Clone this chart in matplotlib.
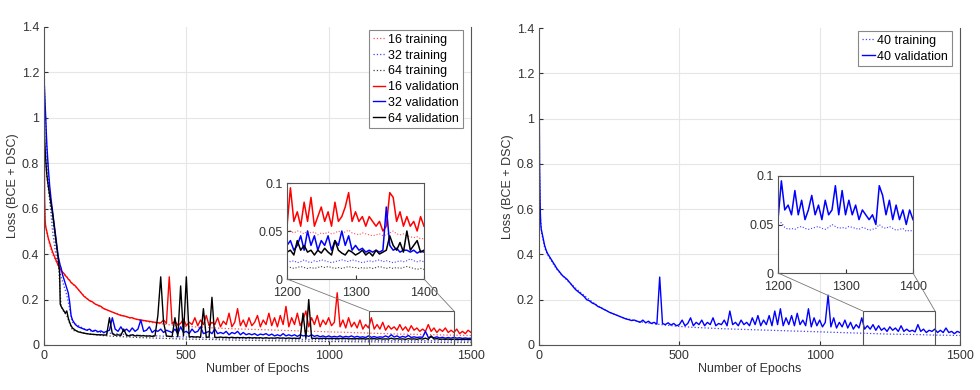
import numpy as np
import matplotlib
matplotlib.use("Agg")
import matplotlib.pyplot as plt
from matplotlib.patches import Rectangle, ConnectionPatch

plt.rcParams["font.family"] = ["Liberation Sans", "DejaVu Sans"]
plt.rcParams["font.size"] = 9

# epochs: dense at the start, then every 10 (validation) / every 50 (training)
early_ep = [0, 1, 2, 4, 6, 8, 10, 15, 20, 25, 30, 35, 40, 45, 50, 55, 57, 60, 65, 70, 75, 80, 85, 90, 95]
ep_val = np.concatenate([early_ep, np.arange(100, 1501, 10)])
ep_train = np.concatenate([[0, 2, 5, 10, 20, 30, 40, 50, 60, 70, 80, 90], np.arange(100, 1501, 50)])
ep_zoom = np.arange(1200, 1401, 5)

# ---- left panel: batch sizes 16 / 32 / 64 ----
v16 = [1.20, 0.90, 0.65, 0.55, 0.52, 0.51, 0.50, 0.47, 0.45, 0.43, 0.41, 0.395, 0.38, 0.365, 0.35, 0.34, 0.335,
       0.33, 0.32, 0.315, 0.305, 0.30, 0.29, 0.285, 0.275,
       0.27, 0.26, 0.245, 0.23, 0.215, 0.205, 0.195, 0.19, 0.18, 0.175,
       0.17, 0.16, 0.155, 0.15, 0.145, 0.14, 0.135, 0.13, 0.128, 0.125,
       0.12, 0.12, 0.115, 0.112, 0.11, 0.108, 0.106, 0.104, 0.102, 0.10,
       0.098, 0.097, 0.11, 0.095, 0.30, 0.093, 0.105, 0.088, 0.095, 0.115,
       0.085, 0.10, 0.09, 0.12, 0.085, 0.11, 0.09, 0.13, 0.085, 0.10,
       0.09, 0.12, 0.08, 0.105, 0.09, 0.14, 0.08, 0.10, 0.16, 0.085,
       0.11, 0.08, 0.12, 0.085, 0.10, 0.13, 0.08, 0.11, 0.09, 0.14,
       0.085, 0.12, 0.08, 0.13, 0.09, 0.17, 0.08, 0.12, 0.09, 0.14,
       0.085, 0.11, 0.15, 0.08, 0.12, 0.09, 0.13, 0.08, 0.11, 0.09,
       0.12, 0.085, 0.10, 0.23, 0.08, 0.11, 0.075, 0.12, 0.08, 0.10,
       0.075, 0.11, 0.07, 0.09, 0.075, 0.12, 0.07, 0.09, 0.07, 0.10,
       0.065, 0.085, 0.07, 0.08, 0.065, 0.09, 0.065, 0.08, 0.06, 0.085,
       0.065, 0.075, 0.06, 0.07, 0.06, 0.09, 0.06, 0.075, 0.055, 0.07,
       0.06, 0.075, 0.055, 0.065, 0.055, 0.07, 0.05, 0.06, 0.05, 0.065,
       0.055]
v32 = [1.35, 1.15, 1.12, 1.06, 1.00, 0.94, 0.88, 0.78, 0.70, 0.64, 0.59, 0.54, 0.49, 0.44, 0.39, 0.36, 0.35,
       0.34, 0.31, 0.29, 0.27, 0.25, 0.23, 0.19, 0.13,
       0.11, 0.09, 0.08, 0.075, 0.07, 0.065, 0.07, 0.06, 0.065, 0.058,
       0.062, 0.055, 0.06, 0.065, 0.12, 0.07, 0.06, 0.08, 0.06, 0.07,
       0.058, 0.075, 0.06, 0.07, 0.11, 0.06, 0.065, 0.08, 0.055, 0.065,
       0.06, 0.07, 0.055, 0.065, 0.06, 0.055, 0.07, 0.05, 0.08, 0.055,
       0.06, 0.05, 0.07, 0.055, 0.06, 0.08, 0.05, 0.055, 0.06, 0.05,
       0.07, 0.05, 0.055, 0.05, 0.06, 0.045, 0.055, 0.05, 0.06, 0.045,
       0.055, 0.045, 0.05, 0.045, 0.05, 0.042, 0.048, 0.045, 0.05, 0.042,
       0.048, 0.04, 0.045, 0.04, 0.05, 0.04, 0.045, 0.04, 0.045, 0.038,
       0.045, 0.04, 0.042, 0.038, 0.045, 0.038, 0.042, 0.036, 0.04, 0.035,
       0.04, 0.035, 0.038, 0.035, 0.04, 0.034, 0.038, 0.035, 0.04, 0.034,
       0.038, 0.034, 0.036, 0.033, 0.04, 0.034, 0.037, 0.033, 0.036, 0.034,
       0.04, 0.034, 0.045, 0.035, 0.04, 0.033, 0.038, 0.034, 0.042, 0.033,
       0.036, 0.033, 0.035, 0.034, 0.06, 0.033, 0.035, 0.032, 0.036, 0.031,
       0.034, 0.03, 0.033, 0.03, 0.034, 0.03, 0.032, 0.029, 0.031, 0.029,
       0.03]
v64 = [1.10, 0.98, 0.92, 0.86, 0.82, 0.78, 0.75, 0.70, 0.66, 0.62, 0.58, 0.53, 0.48, 0.43, 0.38, 0.32, 0.18,
       0.17, 0.16, 0.15, 0.14, 0.15, 0.12, 0.10, 0.085,
       0.075, 0.065, 0.058, 0.055, 0.052, 0.05, 0.048, 0.047, 0.046, 0.045,
       0.045, 0.044, 0.044, 0.12, 0.05, 0.043, 0.045, 0.042, 0.07, 0.042,
       0.04, 0.045, 0.04, 0.042, 0.04, 0.041, 0.039, 0.04, 0.038, 0.04,
       0.13, 0.30, 0.10, 0.04, 0.038, 0.037, 0.12, 0.036, 0.26, 0.04,
       0.30, 0.035, 0.037, 0.035, 0.036, 0.034, 0.16, 0.034, 0.035, 0.21,
       0.034, 0.033, 0.035, 0.033, 0.034, 0.032, 0.034, 0.032, 0.033, 0.032,
       0.033, 0.031, 0.033, 0.031, 0.032, 0.031, 0.032, 0.03, 0.032, 0.03,
       0.031, 0.03, 0.032, 0.03, 0.031, 0.029, 0.031, 0.029, 0.03, 0.029,
       0.03, 0.14, 0.029, 0.20, 0.03, 0.029, 0.03, 0.028, 0.03, 0.028,
       0.029, 0.028, 0.029, 0.027, 0.029, 0.028, 0.029, 0.027, 0.028, 0.027,
       0.028, 0.027, 0.028, 0.026, 0.028, 0.027, 0.028, 0.026, 0.028, 0.026,
       0.027, 0.026, 0.03, 0.026, 0.028, 0.026, 0.027, 0.025, 0.028, 0.026,
       0.027, 0.025, 0.028, 0.026, 0.03, 0.025, 0.04, 0.026, 0.028, 0.025,
       0.026, 0.025, 0.026, 0.024, 0.026, 0.024, 0.025, 0.024, 0.025, 0.024,
       0.024]
t16 = [1.18, 0.62, 0.53, 0.49, 0.44, 0.40, 0.375, 0.35, 0.33, 0.315, 0.30, 0.285,
       0.27, 0.205, 0.165, 0.14, 0.12, 0.105, 0.095, 0.088, 0.082, 0.078, 0.075, 0.072, 0.07, 0.068,
       0.066, 0.064, 0.062, 0.06, 0.058, 0.056, 0.054, 0.052, 0.05, 0.048, 0.047, 0.046, 0.044, 0.043, 0.042]
t32 = [1.30, 1.12, 1.02, 0.85, 0.64, 0.50, 0.41, 0.35, 0.30, 0.26, 0.22, 0.16,
       0.10, 0.065, 0.055, 0.05, 0.045, 0.042, 0.04, 0.037, 0.035, 0.033, 0.031, 0.03, 0.029, 0.028,
       0.027, 0.026, 0.025, 0.024, 0.023, 0.022, 0.022, 0.021, 0.02, 0.02, 0.019, 0.019, 0.018, 0.018, 0.017]
t64 = [1.05, 0.90, 0.84, 0.74, 0.64, 0.56, 0.46, 0.37, 0.17, 0.145, 0.13, 0.095,
       0.065, 0.05, 0.042, 0.038, 0.035, 0.032, 0.03, 0.028, 0.026, 0.025, 0.024, 0.022, 0.021, 0.02,
       0.019, 0.018, 0.017, 0.016, 0.015, 0.015, 0.014, 0.014, 0.013, 0.013, 0.012, 0.012, 0.011, 0.011, 0.011]

# zoomed window 1200-1400, every 5 epochs
zv16 = [0.055, 0.095, 0.06, 0.07, 0.055, 0.08, 0.06, 0.085, 0.055, 0.065,
        0.075, 0.06, 0.07, 0.055, 0.08, 0.06, 0.065, 0.075, 0.09, 0.06,
        0.07, 0.06, 0.065, 0.055, 0.065, 0.06, 0.055, 0.06, 0.05, 0.055,
        0.09, 0.085, 0.06, 0.07, 0.055, 0.065, 0.055, 0.06, 0.05, 0.065,
        0.055]
zt16 = [0.052, 0.05, 0.048, 0.05, 0.049, 0.047, 0.05, 0.048, 0.049, 0.046,
        0.048, 0.047, 0.049, 0.047, 0.048, 0.05, 0.048, 0.049, 0.051, 0.048,
        0.047, 0.046, 0.048, 0.047, 0.046, 0.045, 0.046, 0.047, 0.045, 0.046,
        0.048, 0.05, 0.047, 0.046, 0.047, 0.045, 0.044, 0.043, 0.044, 0.042,
        0.042]
zv32 = [0.035, 0.04, 0.03, 0.035, 0.045, 0.03, 0.05, 0.035, 0.045, 0.03,
        0.04, 0.035, 0.045, 0.03, 0.04, 0.035, 0.05, 0.035, 0.045, 0.03,
        0.035, 0.03, 0.032, 0.028, 0.03, 0.028, 0.03, 0.028, 0.03, 0.075,
        0.035, 0.03, 0.032, 0.028, 0.03, 0.03, 0.028, 0.03, 0.027, 0.029,
        0.028]
zt32 = [0.02, 0.018, 0.019, 0.017, 0.018, 0.02, 0.018, 0.017, 0.019, 0.018,
        0.02, 0.019, 0.018, 0.017, 0.018, 0.019, 0.02, 0.019, 0.018, 0.02,
        0.019, 0.018, 0.017, 0.018, 0.019, 0.018, 0.019, 0.02, 0.018, 0.019,
        0.018, 0.017, 0.018, 0.019, 0.018, 0.019, 0.021, 0.019, 0.018, 0.019,
        0.018]
zv64 = [0.028, 0.03, 0.025, 0.04, 0.03, 0.035, 0.028, 0.03, 0.025, 0.03,
        0.027, 0.032, 0.028, 0.025, 0.04, 0.03, 0.027, 0.025, 0.03, 0.028,
        0.025, 0.027, 0.03, 0.025, 0.028, 0.024, 0.03, 0.026, 0.028, 0.03,
        0.045, 0.035, 0.03, 0.038, 0.028, 0.05, 0.03, 0.035, 0.04, 0.028,
        0.03]
zt64 = [0.013, 0.012, 0.011, 0.012, 0.013, 0.012, 0.011, 0.012, 0.011, 0.012,
        0.013, 0.012, 0.013, 0.012, 0.011, 0.012, 0.011, 0.012, 0.013, 0.012,
        0.012, 0.011, 0.012, 0.011, 0.012, 0.011, 0.012, 0.013, 0.012, 0.011,
        0.012, 0.011, 0.012, 0.011, 0.012, 0.013, 0.012, 0.011, 0.01, 0.011,
        0.01]

# ---- right panel: batch size 40 ----
v40 = [1.32, 1.05, 0.80, 0.62, 0.54, 0.51, 0.50, 0.47, 0.44, 0.42, 0.405, 0.395, 0.385, 0.375, 0.365, 0.355,
       0.352, 0.345, 0.335, 0.328, 0.32, 0.312, 0.305, 0.30, 0.295,
       0.29, 0.275, 0.26, 0.245, 0.235, 0.225, 0.215, 0.20, 0.195, 0.185,
       0.18, 0.17, 0.165, 0.158, 0.152, 0.145, 0.14, 0.135, 0.13, 0.125,
       0.12, 0.115, 0.112, 0.108, 0.11, 0.105, 0.10, 0.11, 0.098, 0.105,
       0.095, 0.10, 0.092, 0.30, 0.095, 0.09, 0.098, 0.088, 0.095, 0.085,
       0.09, 0.11, 0.085, 0.095, 0.12, 0.085, 0.10, 0.09, 0.11, 0.085,
       0.10, 0.09, 0.12, 0.085, 0.095, 0.09, 0.11, 0.085, 0.15, 0.09,
       0.10, 0.085, 0.11, 0.09, 0.10, 0.085, 0.12, 0.09, 0.13, 0.085,
       0.11, 0.09, 0.13, 0.085, 0.15, 0.09, 0.16, 0.085, 0.12, 0.09,
       0.13, 0.085, 0.14, 0.09, 0.11, 0.085, 0.16, 0.08, 0.12, 0.085,
       0.11, 0.08, 0.10, 0.22, 0.08, 0.12, 0.075, 0.10, 0.08, 0.11,
       0.075, 0.10, 0.07, 0.09, 0.075, 0.12, 0.07, 0.085, 0.07, 0.09,
       0.065, 0.085, 0.065, 0.075, 0.06, 0.08, 0.065, 0.075, 0.06, 0.085,
       0.06, 0.07, 0.06, 0.065, 0.058, 0.09, 0.06, 0.07, 0.055, 0.065,
       0.06, 0.07, 0.055, 0.065, 0.055, 0.075, 0.055, 0.06, 0.05, 0.06,
       0.055]
t40 = [1.30, 0.78, 0.56, 0.49, 0.43, 0.40, 0.38, 0.36, 0.34, 0.325, 0.31, 0.30,
       0.285, 0.23, 0.18, 0.145, 0.12, 0.105, 0.095, 0.088, 0.082, 0.078, 0.075, 0.072, 0.07, 0.068,
       0.066, 0.064, 0.062, 0.06, 0.058, 0.056, 0.054, 0.052, 0.05, 0.048, 0.047, 0.046, 0.044, 0.043, 0.042]
zv40 = [0.055, 0.095, 0.065, 0.07, 0.06, 0.085, 0.06, 0.075, 0.055, 0.065,
        0.08, 0.06, 0.07, 0.055, 0.075, 0.06, 0.065, 0.09, 0.06, 0.085,
        0.06, 0.075, 0.06, 0.07, 0.055, 0.065, 0.06, 0.055, 0.06, 0.05,
        0.09, 0.08, 0.06, 0.075, 0.055, 0.07, 0.055, 0.065, 0.05, 0.065,
        0.055]
zt40 = [0.05, 0.052, 0.047, 0.045, 0.046, 0.045, 0.047, 0.048, 0.046, 0.045,
        0.046, 0.047, 0.048, 0.046, 0.045, 0.047, 0.05, 0.048, 0.046, 0.047,
        0.046, 0.048, 0.047, 0.046, 0.045, 0.047, 0.046, 0.044, 0.045, 0.046,
        0.05, 0.047, 0.046, 0.048, 0.046, 0.044, 0.045, 0.046, 0.043, 0.044,
        0.043]

RED, BLUE, BLACK = "#ff0000", "#0000ff", "#000000"
GRID = "#e6e6e6"
EDGE = "#555555"


def style_main(ax):
    ax.set_xlim(0, 1500)
    ax.set_ylim(0, 1.4)
    ax.set_xticks([0, 500, 1000, 1500])
    ax.set_yticks([0, 0.2, 0.4, 0.6, 0.8, 1, 1.2, 1.4])
    ax.set_yticklabels(["0", "0.2", "0.4", "0.6", "0.8", "1", "1.2", "1.4"])
    ax.grid(True, color=GRID, lw=0.8)
    ax.get_ygridlines()[-1].set_visible(False)  # no line along the open top edge
    ax.set_axisbelow(True)
    ax.tick_params(direction="in", length=3, colors="#333333", labelsize=9)
    ax.spines["top"].set_visible(False)
    for s in ("left", "bottom", "right"):
        ax.spines[s].set_color(EDGE)
        ax.spines[s].set_linewidth(0.8)
    ax.set_xlabel("Number of Epochs", fontsize=9, color="#333333", labelpad=1)
    ax.set_ylabel("Loss (BCE + DSC)", fontsize=9, color="#333333", labelpad=2)


def style_inset(ax):
    ax.set_xlim(1200, 1400)
    ax.set_ylim(0, 0.1)
    ax.set_xticks([1200, 1300, 1400])
    ax.set_yticks([0, 0.05, 0.1])
    ax.set_yticklabels(["0", "0.05", "0.1"])
    ax.tick_params(direction="in", length=3, colors="#333333", labelsize=9)
    ax.tick_params(axis="x", pad=6)
    ax.tick_params(axis="y", pad=3)
    for s in ax.spines.values():
        s.set_color(EDGE)
        s.set_linewidth(0.8)


def add_legend(ax):
    leg = ax.legend(loc="upper right", bbox_to_anchor=(0.995, 1.01), fontsize=9, handlelength=1.0,
                    handletextpad=0.2, labelspacing=0.3, borderpad=0.3, fancybox=False,
                    framealpha=1, edgecolor="#888888")
    leg.get_frame().set_linewidth(0.8)


def zoom_box(fig, ax, axin, x0, x1, ytop):
    ax.add_patch(Rectangle((x0, 0), x1 - x0, ytop, fill=False, ec=EDGE, lw=0.8, zorder=5))
    for xi, xa in ((1200, x0), (1400, x1)):
        con = ConnectionPatch(xyA=(xi, 0), coordsA=axin.transData,
                              xyB=(xa, ytop), coordsB=ax.transData,
                              color="#777777", lw=0.6)
        fig.add_artist(con)


fig = plt.figure(figsize=(9.8, 3.9), dpi=100)

# left panel
ax1 = fig.add_axes([0.0449, 0.1154, 0.4357, 0.8154])
ax1.plot(ep_train, t16, ":", color="#ff5050", lw=0.9, label="16 training")
ax1.plot(ep_train, t32, ":", color="#4040ff", lw=0.9, label="32 training")
ax1.plot(ep_train, t64, ":", color="#404040", lw=0.9, label="64 training")
ax1.plot(ep_val, v16, "-", color=RED, lw=1.0, label="16 validation")
ax1.plot(ep_val, v32, "-", color=BLUE, lw=1.0, label="32 validation")
ax1.plot(ep_val, v64, "-", color=BLACK, lw=1.0, label="64 validation")
style_main(ax1)
add_legend(ax1)

in1 = fig.add_axes([287 / 980, 1 - 279 / 390, 137 / 980, 96 / 390])
in1.plot(ep_zoom, zt16, ":", color="#ff5050", lw=0.8)
in1.plot(ep_zoom, zt32, ":", color="#4040ff", lw=0.8)
in1.plot(ep_zoom, zt64, ":", color="#404040", lw=0.8)
in1.plot(ep_zoom, zv16, "-", color=RED, lw=1.1)
in1.plot(ep_zoom, zv32, "-", color=BLUE, lw=1.1)
in1.plot(ep_zoom, zv64, "-", color=BLACK, lw=1.1)
style_inset(in1)
zoom_box(fig, ax1, in1, 1140, 1440, 0.15)

# right panel
ax2 = fig.add_axes([0.55, 0.1154, 0.4296, 0.8128])
ax2.plot(ep_train, t40, ":", color="#4040ff", lw=0.9, label="40 training")
ax2.plot(ep_val, v40, "-", color=BLUE, lw=1.0, label="40 validation")
style_main(ax2)
add_legend(ax2)

in2 = fig.add_axes([778 / 980, 1 - 273 / 390, 135 / 980, 97 / 390])
in2.plot(ep_zoom, zt40, ":", color="#4040ff", lw=0.8)
in2.plot(ep_zoom, zv40, "-", color=BLUE, lw=1.1)
style_inset(in2)
zoom_box(fig, ax2, in2, 1154, 1411, 0.15)

fig.savefig("out.png", dpi=100)
